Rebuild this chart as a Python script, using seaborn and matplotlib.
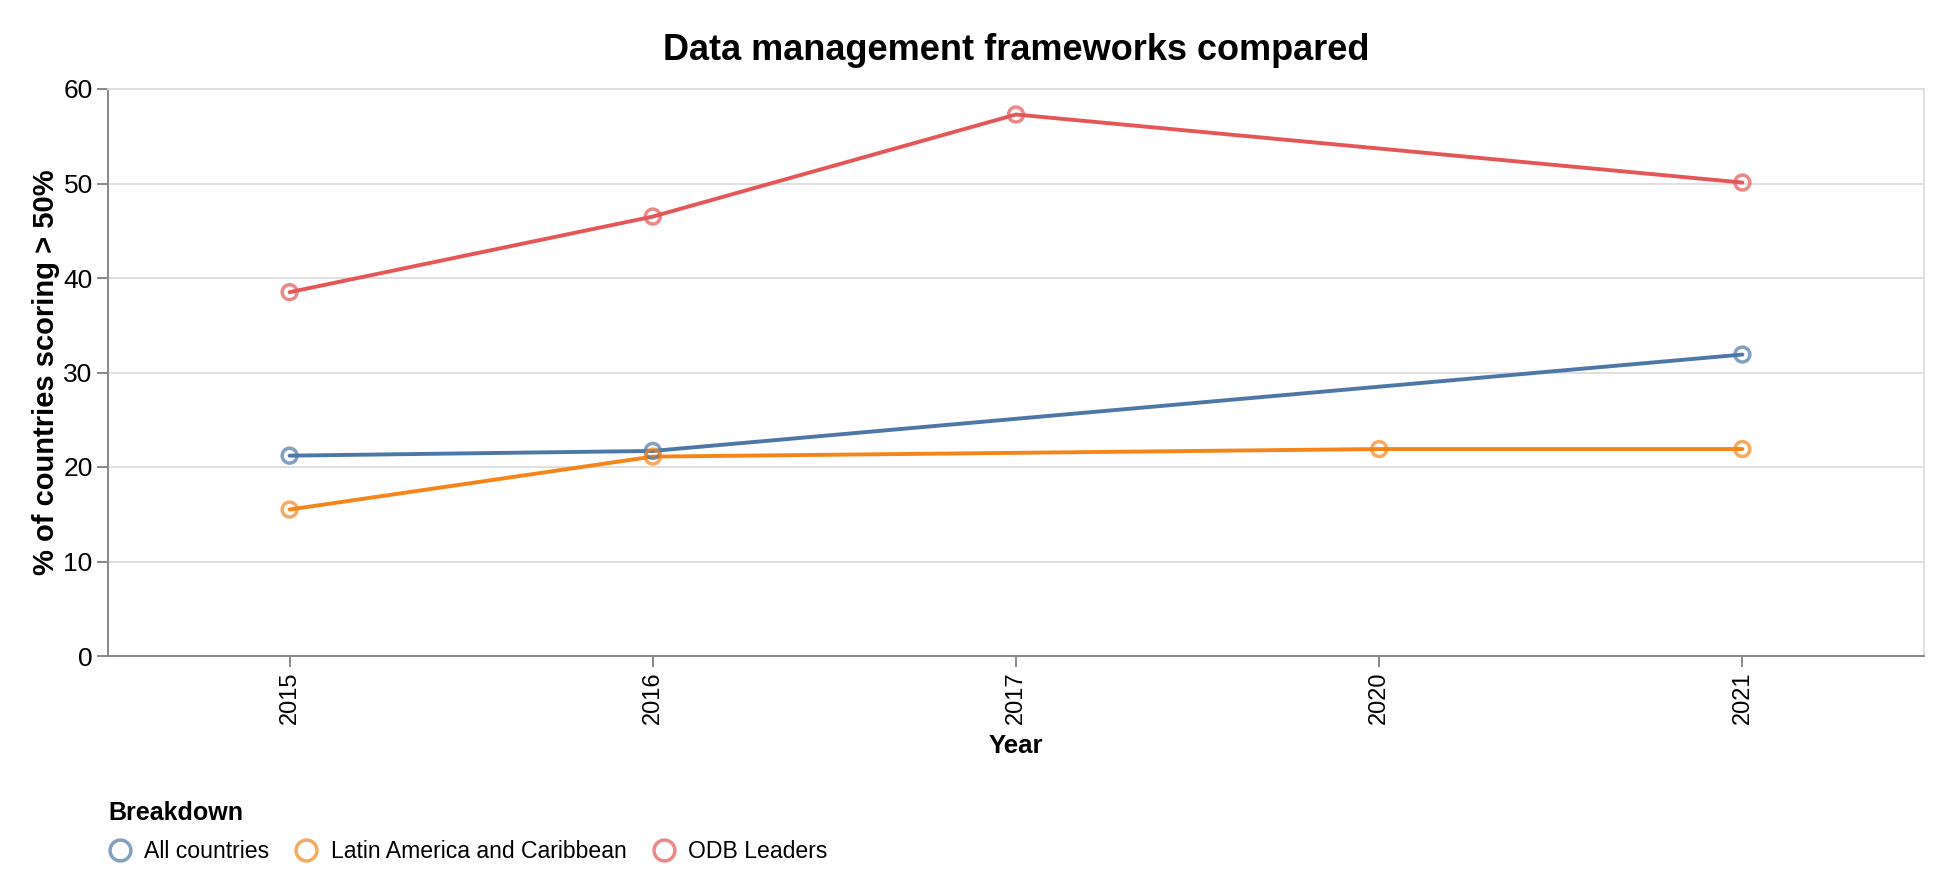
import matplotlib
matplotlib.use("Agg")
import matplotlib.pyplot as plt
import seaborn as sns
import pandas as pd
from matplotlib.lines import Line2D

# ---- data ----
years = ["2015", "2016", "2017", "2020", "2021"]
series_names = ["All countries", "Latin America and Caribbean", "ODB Leaders"]
all_countries = [21.2, 21.7, None, None, 31.9]
latin_america = [15.5, 21.1, None, 21.9, 21.9]
odb_leaders = [38.5, 46.5, 57.3, None, 50.1]
colors = ["#4c78a8", "#f58518", "#e45756"]
y_ticks = [0, 10, 20, 30, 40, 50, 60]

rows = []
for name, vals in zip(series_names, [all_countries, latin_america, odb_leaders]):
    for i, (yr, v) in enumerate(zip(years, vals)):
        if v is not None:
            rows.append({"Year": yr, "pos": i, "value": v, "Breakdown": name})
df = pd.DataFrame(rows)

sns.set_theme(style="white")
plt.rcParams["font.family"] = ["Liberation Sans", "DejaVu Sans"]
plt.rcParams["text.color"] = "black"
plt.rcParams["axes.labelcolor"] = "black"

W, H = 1949, 884
fig = plt.figure(figsize=(W / 100, H / 100), dpi=100)
L, R, T, B = 108, 1924, 89, 656
ax = fig.add_axes([L / W, 1 - B / H, (R - L) / W, (B - T) / H])

palette = dict(zip(series_names, colors))
sns.lineplot(data=df, x="pos", y="value", hue="Breakdown", palette=palette,
             linewidth=2.8, ax=ax, legend=False, sort=True, zorder=3)
sns.scatterplot(data=df, x="pos", y="value", hue="Breakdown", palette=palette,
                ax=ax, legend=False, s=115, linewidth=2.5, zorder=4, marker="o")
coll = ax.collections[-1]
ec = [matplotlib.colors.to_rgba(palette[b], 0.7) for b in df["Breakdown"]]
coll.set_edgecolors(ec)
coll.set_facecolors("none")

ax.set_xlim(-0.5, len(years) - 0.5)
ax.set_ylim(0, 60)
ax.set_xticks(range(len(years)))
ax.set_xticklabels(years, rotation=90)
ax.set_yticks(y_ticks)
ax.yaxis.grid(True, color="#dddddd", linewidth=1.3)
ax.xaxis.grid(False)
ax.set_axisbelow(True)

for s in ["top", "right"]:
    ax.spines[s].set_color("#dddddd")
    ax.spines[s].set_linewidth(1.3)
for s in ["left", "bottom"]:
    ax.spines[s].set_color("#888888")
    ax.spines[s].set_linewidth(1.4)

ax.tick_params(axis="both", which="major", length=8, width=1.4, color="#888888",
               labelcolor="black", direction="out", pad=3, bottom=True, left=True)
ax.tick_params(axis="y", labelsize=19)
ax.tick_params(axis="x", labelsize=17)

ax.set_xlabel("Year", fontsize=18.5, fontweight="bold", va="center")
ax.xaxis.set_label_coords(0.5, (B - 746) / (B - T))
ax.set_ylabel("% of countries scoring > 50%", fontsize=21, fontweight="bold", va="center")
ax.yaxis.set_label_coords((46 - L) / (R - L), 0.5)

fig.text((L + R) / 2 / W, 1 - 50 / H, "Data management frameworks compared",
         ha="center", va="center", fontsize=26, fontweight="bold", color="black")

handles = [Line2D([0], [0], marker="o", linestyle="none", markersize=15,
                  markerfacecolor="none", markeredgecolor=matplotlib.colors.to_rgba(c, 0.7),
                  markeredgewidth=2.5) for c in colors]
leg = fig.legend(handles, series_names, title="Breakdown", ncol=3, loc="upper left",
                 bbox_to_anchor=(108 / W, 1 - 801 / H), frameon=False, fontsize=16.6,
                 title_fontproperties={"weight": "bold", "size": 18},
                 handletextpad=0.56, columnspacing=1.12, handlelength=1.0,
                 borderaxespad=0, borderpad=0, labelspacing=0.3)
leg._legend_box.align = "left"
leg._legend_box.sep = 11

fig.savefig("out.png", dpi=100, facecolor="white")
